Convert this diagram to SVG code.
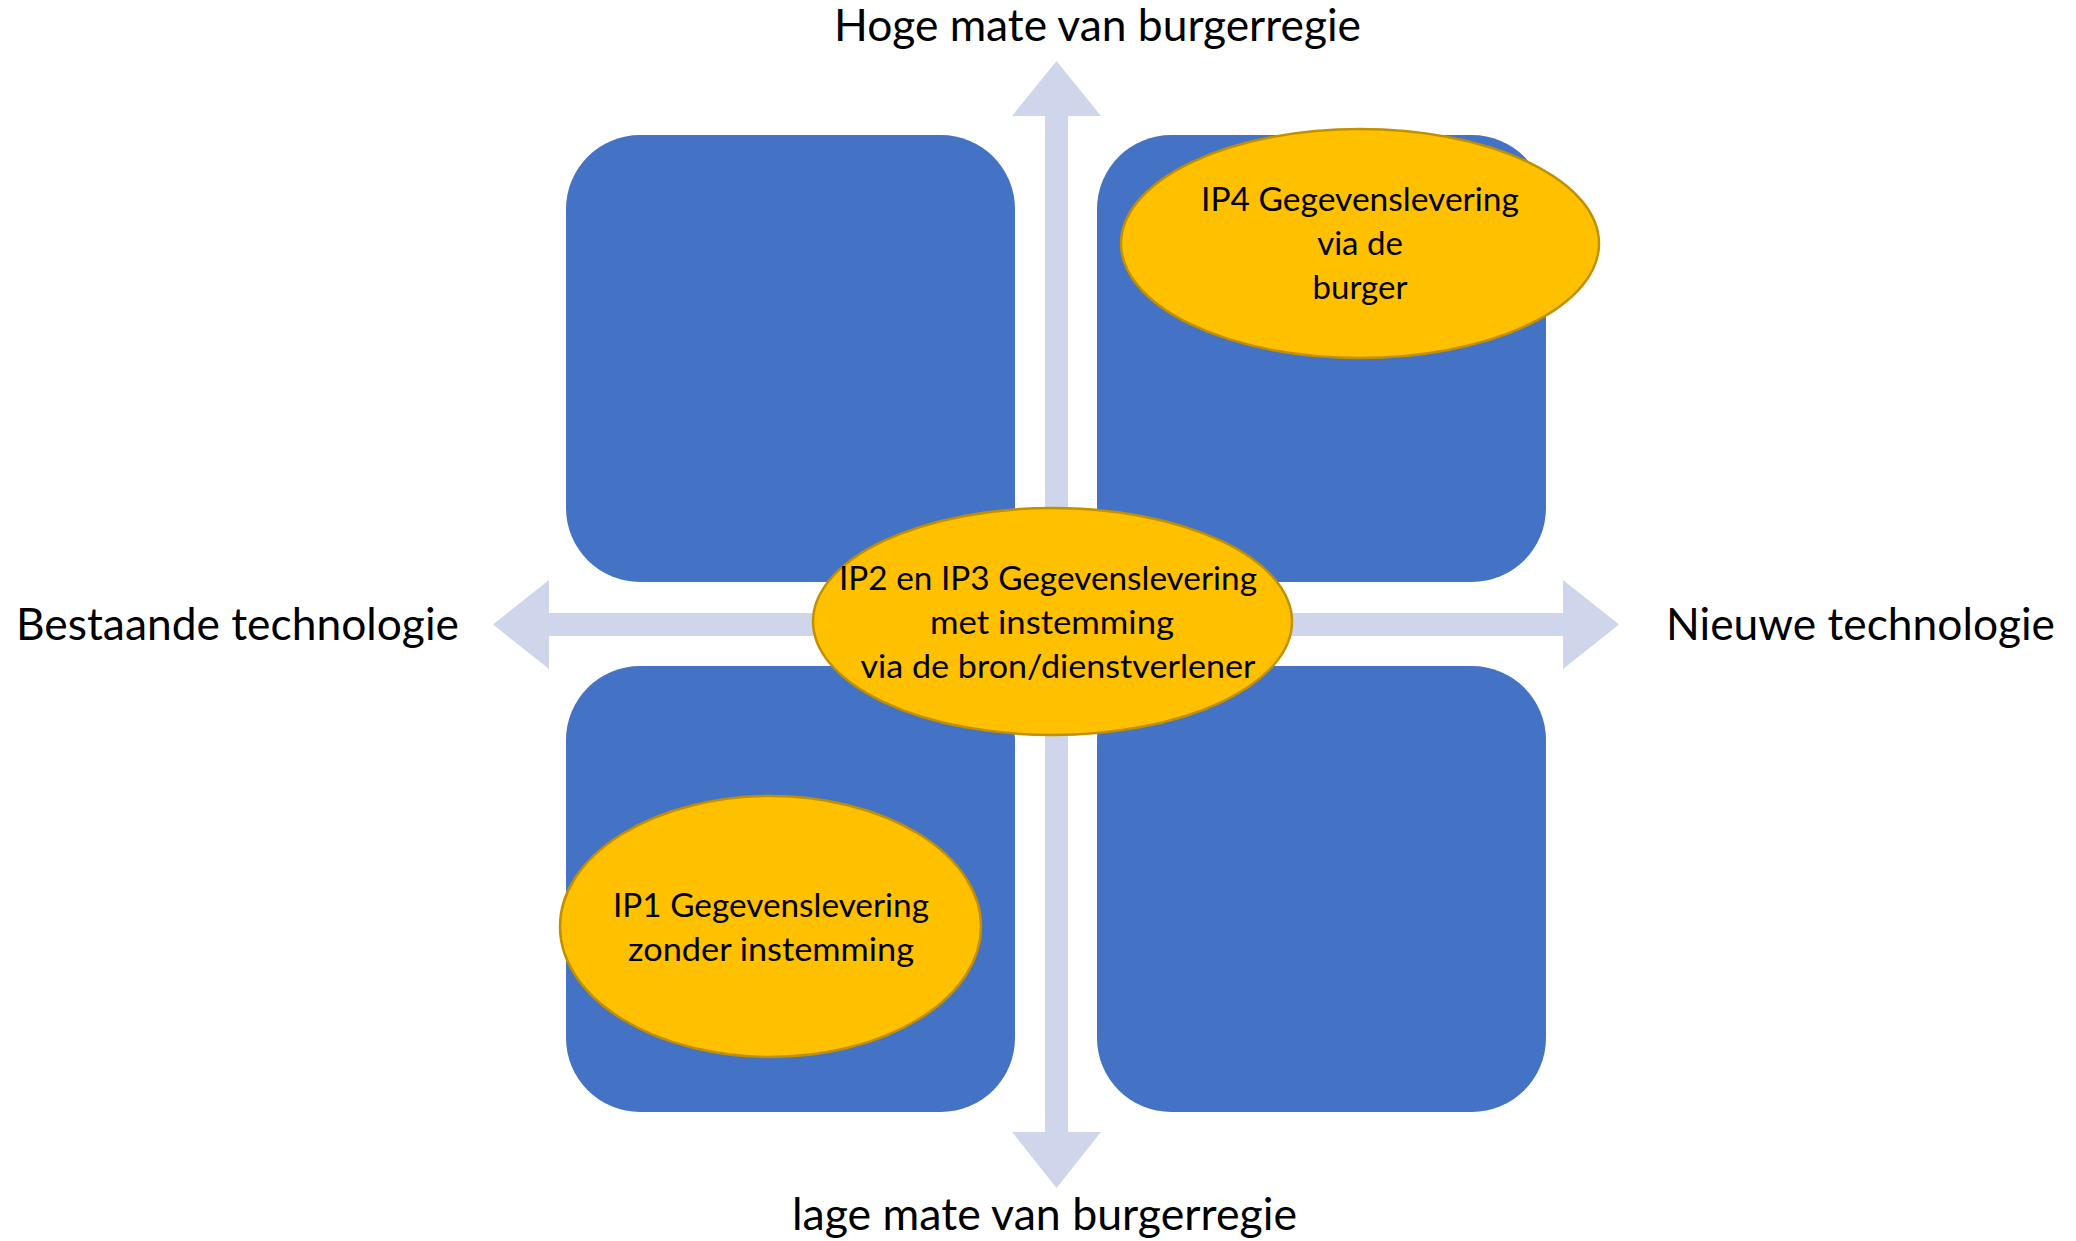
<svg xmlns="http://www.w3.org/2000/svg" width="2076" height="1241" viewBox="0 0 2076 1241">
<style>
.quad{fill:#4472C4}
.oval{fill:#FFC000;stroke:#C09000;stroke-width:2.5}
.arrow{fill:#CFD5EA}
.axis{font-family:Lato,"Open Sans","Liberation Sans",sans-serif;font-size:44px;fill:#000}
.lbl{font-family:Lato,"Open Sans","Liberation Sans",sans-serif;font-size:33px;fill:#000;text-anchor:middle}
</style>
<rect width="2076" height="1241" fill="#fff"/>
<g id="quadrants">
<rect id="q-top-left" class="quad" x="566" y="135" width="449" height="447" rx="74" ry="74"/>
<rect id="q-top-right" class="quad" x="1097" y="135" width="449" height="447" rx="74" ry="74"/>
<rect id="q-bottom-left" class="quad" x="566" y="666" width="449" height="446" rx="74" ry="74"/>
<rect id="q-bottom-right" class="quad" x="1097" y="666" width="449" height="446" rx="74" ry="74"/>
</g>
<g id="connectors">
<polygon class="arrow" points="1056.5,61 1101,116 1068,116 1068,1132 1101,1132 1056.5,1188 1012,1132 1045,1132 1045,116 1012,116"/>
<polygon class="arrow" points="493,624.5 549,580 549,613 1563,613 1563,580 1619,624.5 1563,669 1563,636 549,636 549,669"/>
</g>
<g id="axis-labels">
<text class="axis" x="1097.5" y="41" text-anchor="middle" textLength="527" lengthAdjust="spacingAndGlyphs">Hoge mate van burgerregie</text>
<text class="axis" x="1044.5" y="1230" text-anchor="middle" textLength="505" lengthAdjust="spacingAndGlyphs">lage mate van burgerregie</text>
<text class="axis" x="16" y="640" textLength="443" lengthAdjust="spacingAndGlyphs">Bestaande technologie</text>
<text class="axis" x="1666" y="640" textLength="389" lengthAdjust="spacingAndGlyphs">Nieuwe technologie</text>
</g>
<g id="ip4">
<ellipse class="oval" cx="1360" cy="243.5" rx="239" ry="114.5"/>
<text class="lbl" x="1360" y="211" textLength="318" lengthAdjust="spacingAndGlyphs">IP4 Gegevenslevering</text>
<text class="lbl" x="1360" y="255">via de</text>
<text class="lbl" x="1360" y="299">burger</text>
</g>
<g id="ip2-ip3">
<ellipse class="oval" cx="1052.5" cy="621.5" rx="239.5" ry="113.5"/>
<text class="lbl" x="1048" y="590" textLength="418" lengthAdjust="spacingAndGlyphs">IP2 en IP3 Gegevenslevering</text>
<text class="lbl" x="1052" y="634" textLength="244" lengthAdjust="spacingAndGlyphs">met instemming</text>
<text class="lbl" x="1058" y="678" textLength="395" lengthAdjust="spacingAndGlyphs">via de bron/dienstverlener</text>
</g>
<g id="ip1">
<ellipse class="oval" cx="770.5" cy="926.5" rx="210.5" ry="130.5"/>
<text class="lbl" x="771" y="917" textLength="316" lengthAdjust="spacingAndGlyphs">IP1 Gegevenslevering</text>
<text class="lbl" x="771" y="961" textLength="286" lengthAdjust="spacingAndGlyphs">zonder instemming</text>
</g>
</svg>
